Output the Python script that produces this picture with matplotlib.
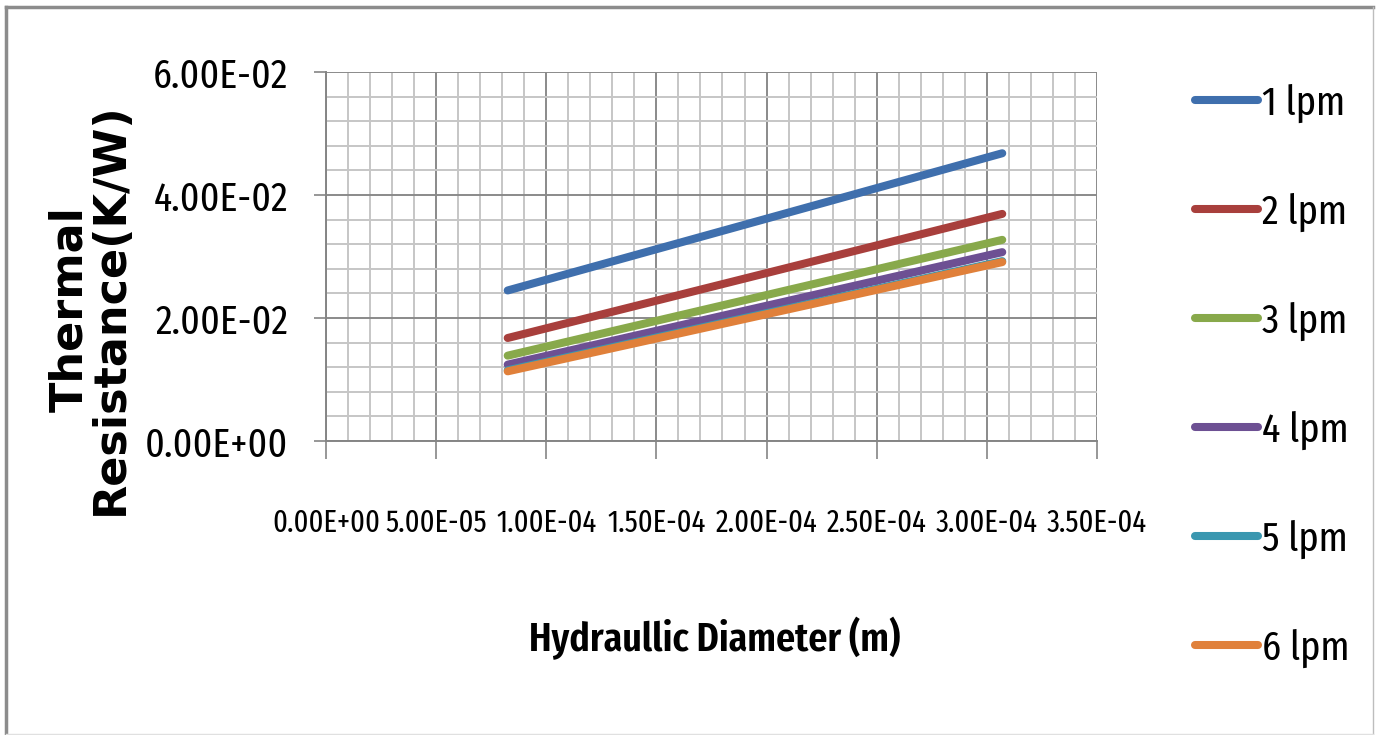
import matplotlib
matplotlib.use("Agg")
import matplotlib.pyplot as plt
import matplotlib.font_manager as fm
from matplotlib.lines import Line2D
from matplotlib.ticker import MultipleLocator, FuncFormatter

# -----------------------------
# Data: thermal resistance vs hydraulic diameter, per flow rate
# -----------------------------
diameter = [8.25e-05, 3.07e-04]          # m
labels = ["1 lpm", "2 lpm", "3 lpm", "4 lpm", "5 lpm", "6 lpm"]
r_1lpm = [0.02448, 0.04679]
r_2lpm = [0.01675, 0.03693]
r_3lpm = [0.01388, 0.03271]
r_4lpm = [0.01242, 0.03071]
r_5lpm = [0.01150, 0.02925]
r_6lpm = [0.01133, 0.02909]
colors = ["#3F6FAD", "#A83F3C", "#88A94B", "#6D5093", "#3A97B0", "#E0803A"]

series = [r_1lpm, r_2lpm, r_3lpm, r_4lpm, r_5lpm, r_6lpm]


# -----------------------------
# Pick the narrowest installed sans face for a given weight
# -----------------------------
STRETCH_RANK = {"ultra-condensed": 0, "extra-condensed": 1, "condensed": 2,
                "semi-condensed": 3, "normal": 9}


def _weight(w):
    if isinstance(w, str):
        return fm.weight_dict.get(w, 400)
    return int(w)


def narrow_font(weights=(400,)):
    for target in weights:
        best, best_key = None, None
        for f in fm.fontManager.ttflist:
            name = f.name
            if "CJK" in name or "Mono" in name or "Serif" in name:
                continue
            if _weight(f.weight) != target or f.style != "normal":
                continue
            st = f.stretch if isinstance(f.stretch, str) else "normal"
            rank = STRETCH_RANK.get(st, 9)
            if "Narrow" in name or "Condensed" in name or "Condensed" in f.fname:
                rank = min(rank, 2)
            if "ExtraCondensed" in f.fname:
                rank = 1
            key = (rank, 0 if "Liberation" in name else 1, name)
            if best_key is None or key < best_key:
                best, best_key = f, key
        if best is not None and best_key[0] < 9:
            return fm.FontProperties(fname=best.fname)
    return fm.FontProperties(family="DejaVu Sans",
                             weight="bold" if weights[0] >= 600 else "normal")


fp_reg = narrow_font((400,))
fp_bold = narrow_font((600, 700))
fp_wide = fm.FontProperties(family="DejaVu Sans", weight="bold")

fig = plt.figure(figsize=(13.8, 7.35), dpi=100)
renderer = fig.canvas.get_renderer()


def fit_size(text, fp, width_px):
    """Font size (pt) that gives `text` the wanted pixel width."""
    t = fig.text(0, 0, text, fontproperties=fp, fontsize=10)
    w = t.get_window_extent(renderer).width
    t.remove()
    return 10 * width_px / w


ax = fig.add_axes([0.2362, 0.4, 0.5587, 0.502])

for vals, lab, col in zip(series, labels, colors):
    ax.plot(diameter, vals, color=col, lw=5.8, solid_capstyle="round",
            label=lab, zorder=3)

# axes, grid, ticks
ax.set_xlim(0, 3.5e-4)
ax.set_ylim(0, 0.06)
ax.xaxis.set_major_locator(MultipleLocator(5e-5))
ax.xaxis.set_minor_locator(MultipleLocator(1e-5))
ax.yaxis.set_major_locator(MultipleLocator(0.02))
ax.yaxis.set_minor_locator(MultipleLocator(0.004))
sci = FuncFormatter(lambda v, p: f"{v:.2E}")
ax.xaxis.set_major_formatter(sci)
ax.yaxis.set_major_formatter(sci)

ax.grid(which="minor", color="#c6c6c6", lw=1.4, zorder=0)
ax.grid(which="major", color="#8a8a8a", lw=1.4, zorder=1)
ax.set_axisbelow(True)
for s in ["top", "right"]:
    ax.spines[s].set_visible(False)
for s in ["left", "bottom"]:
    ax.spines[s].set_color("#858585")
    ax.spines[s].set_linewidth(1.4)

ytick_size = fit_size("0.00E+00", fp_reg, 142)
xtick_size = fit_size("0.00E+00", fp_reg, 108)

ax.tick_params(which="minor", length=0)
ax.tick_params(axis="y", which="major", direction="out", length=9,
               width=1.2, color="#858585", pad=18)
ax.tick_params(axis="x", which="major", direction="out", length=13,
               width=1.2, color="#858585", pad=35)
for t in ax.get_yticklabels():
    t.set_fontproperties(fp_reg)
    t.set_fontsize(ytick_size)
for t in ax.get_xticklabels():
    t.set_fontproperties(fp_reg)
    t.set_fontsize(xtick_size)

# axis titles
fig.text(715 / 1380, 1 - 638 / 735, "Hydraullic Diameter (m)",
         ha="center", va="center", fontproperties=fp_bold,
         fontsize=fit_size("Hydraullic Diameter (m)", fp_bold, 372))
fig.text(90 / 1380, 1 - 309 / 735, "Thermal\nResistance(K/W)",
         ha="center", va="center", rotation=90, fontproperties=fp_wide,
         fontsize=32, linespacing=0.95, multialignment="center")

# legend
leg_size = fit_size("1 lpm", fp_reg, 84)
leg_px = leg_size * 100 / 72
probe = fig.text(0, 0, "1 lpm", fontproperties=fp_reg, fontsize=leg_size)
entry_h = probe.get_window_extent(renderer).height
probe.remove()
leg_prop = fp_reg.copy()
leg_prop.set_size(leg_size)
fig.legend(loc="center left", bbox_to_anchor=(1195 / 1380, 1 - 376 / 735),
           frameon=False, prop=leg_prop,
           handlelength=63 / leg_px, handletextpad=4 / leg_px,
           labelspacing=(109 - entry_h) / leg_px,
           borderpad=0, borderaxespad=0)

# chart border
fig.add_artist(Line2D([6 / 1380, 6 / 1380], [0, 1 - 7 / 735],
                      transform=fig.transFigure, color="#8c8c8c", lw=2.5))
fig.add_artist(Line2D([6 / 1380, 1373 / 1380], [1 - 7 / 735, 1 - 7 / 735],
                      transform=fig.transFigure, color="#8c8c8c", lw=2.5))
fig.add_artist(Line2D([1373 / 1380, 1373 / 1380], [0, 1 - 7 / 735],
                      transform=fig.transFigure, color="#bdbdbd", lw=1))
fig.add_artist(Line2D([6 / 1380, 1373 / 1380], [1 / 735, 1 / 735],
                      transform=fig.transFigure, color="#e0e0e0", lw=1))

fig.savefig("out.png", dpi=100)
